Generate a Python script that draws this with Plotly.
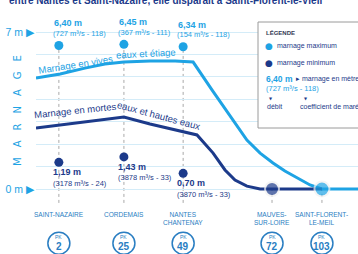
import plotly.graph_objects as go

# ---------------- data ----------------
stations = ["SAINT-NAZAIRE", "CORDEMAIS", "NANTES<br>CHANTENAY", "MAUVES-<br>SUR-LOIRE", "SAINT-FLORENT-<br>LE-MEIL"]
station_pos = [7.1, 27.3, 45.7, 73.3, 88.8]          # position along the river (chart units)
pk = ["2", "25", "49", "72", "103"]

max_marnage = [6.40, 6.45, 6.34]
max_label = ["6,40 m", "6,45 m", "6,34 m"]
max_detail = ["(727 m³/s - 118)", "(367 m³/s - 111)", "(154 m³/s - 118)"]

min_marnage = [1.19, 1.43, 0.70]
min_label = ["1,19 m", "1,43 m", "0,70 m"]
min_detail = ["(3178 m³/s - 24)", "(3878 m³/s - 33)", "(3870 m³/s - 33)"]

end_marnage = [0.0, 0.0]   # Mauves (min regime ends), Saint-Florent (max regime ends)

vives_pos = [0, 7.5, 15.2, 21.4, 27.3, 35.4, 43.2, 48.8, 54.7, 65.5, 69.6, 73.6, 77.3, 81.1, 85.1, 88.8, 100]
vives_m = [4.95, 5.13, 5.39, 5.57, 5.66, 5.71, 5.71, 5.66, 4.41, 2.18, 1.60, 1.16, 0.80, 0.49, 0.18, 0.0, 0.0]

mortes_pos = [0, 7.5, 16.8, 27.3, 35.4, 43.2, 50.0, 55.0, 58.7, 61.8, 65.5, 69.6, 88.8]
mortes_m = [2.72, 2.85, 3.03, 3.21, 2.90, 2.63, 2.41, 1.60, 0.85, 0.40, 0.13, 0.0, 0.0]

y_ticks = [0, 1, 2, 3, 4, 5, 6, 7]
y_ticktext = ["0 m ▶", "", "", "", "", "", "", "7 m ▶"]

# ---------------- style ----------------
LIGHT = "#1ea3e4"
DARK = "#1c3a8a"
MID = "#2a7ec2"
GRID = "#d4ecf8"
COND = "Liberation Sans, Arial, sans-serif"

W, H = 358, 254
ML, MR, MT, MB = 36, 0, 20, 0
PW, PH = W - ML - MR, H - MT - MB
YMAX = 7.535
YMIN = YMAX - PH / 22.43


def px(p):
    return (p - ML) / PW


def py(p):
    return (H - MB - p) / PH


def pann(x, y, text, size, color, family=COND, xanchor="center", angle=0):
    return dict(xref="paper", yref="paper", x=px(x), y=py(y), text=text, xanchor=xanchor,
                yanchor="middle", textangle=angle, showarrow=False,
                font=dict(family=family, size=size, color=color))


fig = go.Figure()

# dotted station guides
for i, x in enumerate(station_pos):
    top = max_marnage[i] if i < 3 else end_marnage[i - 3]
    fig.add_shape(type="line", x0=x, x1=x, y0=-0.62, y1=top, xref="x", yref="y",
                  line=dict(color="#a9a9a9", width=1, dash="dot"), layer="below")

fig.add_trace(go.Scatter(x=vives_pos, y=vives_m, mode="lines",
                         line=dict(color=LIGHT, width=3), hoverinfo="skip"))
fig.add_trace(go.Scatter(x=mortes_pos, y=mortes_m, mode="lines",
                         line=dict(color=DARK, width=3), hoverinfo="skip"))

fig.add_trace(go.Scatter(x=station_pos[:3], y=max_marnage, mode="markers",
                         marker=dict(color=LIGHT, size=9), hoverinfo="skip"))
fig.add_trace(go.Scatter(x=station_pos[:3], y=min_marnage, mode="markers",
                         marker=dict(color=DARK, size=9), hoverinfo="skip"))
fig.add_trace(go.Scatter(x=station_pos[3:], y=end_marnage, mode="markers",
                         marker=dict(color=[DARK, LIGHT], size=[14, 15],
                                     line=dict(color="#f2f2f2", width=2)), hoverinfo="skip"))

# PK circles below the axis
PK_Y = -2.42
fig.add_trace(go.Scatter(x=station_pos, y=[PK_Y] * len(station_pos), mode="markers", cliponaxis=False,
                         marker=dict(color="white", size=22, line=dict(color=MID, width=1.5)),
                         hoverinfo="skip"))

ann = []
for i in range(3):
    x = station_pos[i]
    ann.append(dict(x=x, y=max_marnage[i], text="<b>" + max_label[i] + "</b>", xanchor="left", yanchor="middle",
                    xshift=-7, yshift=22, showarrow=False, font=dict(family=COND, size=9, color=LIGHT)))
    ann.append(dict(x=x, y=max_marnage[i], text=max_detail[i], xanchor="left", yanchor="middle",
                    xshift=-8, yshift=12, showarrow=False, font=dict(family=COND, size=7.5, color=LIGHT)))
    ann.append(dict(x=x, y=min_marnage[i], text="<b>" + min_label[i] + "</b>", xanchor="left", yanchor="middle",
                    xshift=-8, yshift=-10, showarrow=False, font=dict(family=COND, size=9, color=DARK)))
    ann.append(dict(x=x, y=min_marnage[i], text=min_detail[i], xanchor="left", yanchor="middle",
                    xshift=-8, yshift=-21, showarrow=False, font=dict(family=COND, size=7.5, color=DARK)))

for i, x in enumerate(station_pos):
    ann.append(dict(x=x, y=-0.88, text=stations[i], xanchor="center", yanchor="top", showarrow=False,
                    font=dict(family=COND, size=6.5, color=MID)))
    ann.append(dict(x=x, y=PK_Y, text="PK", xanchor="center", yanchor="middle", yshift=6, showarrow=False,
                    font=dict(family=COND, size=5, color=MID)))
    ann.append(dict(x=x, y=PK_Y, text="<b>" + pk[i] + "</b>", xanchor="center", yanchor="middle", yshift=-3,
                    showarrow=False, font=dict(family=COND, size=10, color=MID)))

# curve labels and axis title
ann += [
    pann(75, 64, "Marnage en vives", 9.5, LIGHT, angle=-9),
    pann(146, 53, "eaux et étiage", 9.5, LIGHT, angle=-3),
    pann(75, 111, "Marnage en mortes", 9.5, DARK, angle=-6),
    pann(159, 115, "eaux et hautes eaux", 9.5, DARK, angle=15),
    pann(18, 111, "M\u2003A\u2003R\u2003N\u2003A\u2003G\u2003E", 10, LIGHT, family="DejaVu Sans", angle=-90),
    pann(7, 0, "<b>entre Nantes et Saint-Nazaire, elle disparaît à Saint-Florent-le-Vieil</b>", 10, DARK,
         xanchor="left"),
]

# legend box
fig.add_shape(type="rect", xref="paper", yref="paper", x0=px(258), x1=px(362), y0=py(128), y1=py(22),
              line=dict(color="#9a9a9a", width=1), fillcolor="white", layer="above")
ann += [
    pann(264, 32, "<b>LÉGENDE</b>", 6, "#333a55", xanchor="left"),
    pann(263, 46, "●", 9, LIGHT, family="DejaVu Sans", xanchor="left"),
    pann(275, 46, "marnage maximum", 7, DARK, xanchor="left"),
    pann(263, 63, "●", 9, DARK, family="DejaVu Sans", xanchor="left"),
    pann(275, 63, "marnage minimum", 7, DARK, xanchor="left"),
    pann(264, 79, "<b>6,40 m</b>", 8.5, LIGHT, xanchor="left"),
    pann(294, 79, "▸ marnage en mètre", 7, DARK, xanchor="left"),
    pann(264, 89, "(727 m³/s - 118)", 7.5, LIGHT, xanchor="left"),
    pann(271, 98, "▼", 4, DARK, family="DejaVu Sans"),
    pann(306, 98, "▼", 4, DARK, family="DejaVu Sans"),
    pann(265, 106, "débit", 7, DARK, xanchor="left"),
    pann(298, 106, "coefficient de marée", 7, DARK, xanchor="left"),
]

fig.update_layout(
    width=W, height=H, margin=dict(l=ML, r=MR, t=MT, b=MB),
    paper_bgcolor="white", plot_bgcolor="white", showlegend=False,
    annotations=ann,
    xaxis=dict(range=[0, 100], visible=False, fixedrange=True),
    yaxis=dict(range=[YMIN, YMAX], tickvals=y_ticks, ticktext=y_ticktext,
               showgrid=True, gridcolor=GRID, gridwidth=1, zeroline=False, showline=False,
               ticks="", ticklabelstandoff=1,
               tickfont=dict(family="Liberation Sans, Arial, sans-serif", size=10.5, color=LIGHT)),
)

fig.write_html("out.html", config={"displayModeBar": False},
               post_script="document.body.style.margin='0';")
